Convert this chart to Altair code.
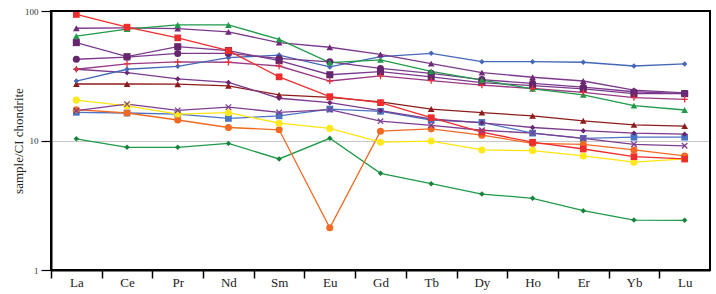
import altair as alt
import pandas as pd

# ---- data ----
elements = ["La", "Ce", "Pr", "Nd", "Sm", "Eu", "Gd", "Tb", "Dy", "Ho", "Er", "Yb", "Lu"]

blue_sq     = [16.5, 16.3, 16.0, 14.8, 15.5, 17.5, 16.8, 14.4, 13.8, 11.4, 10.4, 10.6, 10.6]
green_dia   = [10.3, 8.86, 8.86, 9.5, 7.2, 10.4, 5.58, 4.64, 3.86, 3.58, 2.87, 2.43, 2.42]
orange_ci   = [17.3, 16.3, 14.4, 12.6, 12.1, 2.12, 11.8, 12.3, 11.0, 9.5, 9.35, 8.45, 7.6]
yellow_ci   = [20.5, 18.5, 16.0, 16.4, 13.6, 12.4, 9.7, 9.9, 8.45, 8.35, 7.6, 6.8, 7.2]
purple_x    = [17.0, 19.1, 17.1, 18.1, 16.5, 17.3, 14.1, 13.1, 12.0, 11.4, 10.4, 9.35, 9.1]
dred_tri    = [27.3, 27.3, 27.2, 26.4, 22.5, 21.5, 19.9, 17.5, 16.4, 15.5, 14.2, 13.2, 12.9]
purple_dia  = [35.5, 33.4, 29.9, 28.1, 21.2, 19.6, 17.0, 14.7, 13.7, 12.6, 11.9, 11.4, 11.2]
red_plus    = [35.5, 39.0, 40.4, 40.2, 37.6, 28.8, 31.5, 29.0, 26.8, 25.2, 23.5, 21.4, 20.8]
blue_dia    = [28.8, 35.5, 37.4, 43.6, 45.7, 37.0, 44.5, 47.1, 40.6, 40.6, 40.2, 37.6, 39.0]
purple_ci   = [42.4, 44.0, 47.0, 47.0, 43.0, 40.5, 36.0, 33.0, 29.5, 27.6, 25.8, 23.8, 23.0]
dpurple_sq  = [57.0, 44.4, 53.0, 49.5, 41.3, 32.2, 34.0, 31.0, 28.0, 26.5, 25.0, 23.0, 23.0]
purple_tri  = [73.6, 74.0, 73.0, 69.0, 57.0, 52.5, 46.3, 39.2, 33.4, 30.8, 28.8, 24.5, 23.3]
green_tri   = [64.0, 72.5, 78.0, 78.0, 60.4, 40.0, 42.0, 34.2, 29.3, 25.0, 22.5, 18.6, 17.2]
red_sq      = [94.0, 75.0, 62.0, 49.4, 31.0, 21.8, 19.6, 15.0, 11.6, 9.7, 8.6, 7.5, 7.2]

series = {
    "S1": blue_sq, "S2": green_dia, "S3": orange_ci, "S4": yellow_ci,
    "S5": purple_x, "S6": dred_tri, "S7": purple_dia, "S8": red_plus,
    "S9": blue_dia, "S10": purple_ci, "S11": dpurple_sq, "S12": purple_tri,
    "S13": green_tri, "S14": red_sq,
}

# ---- styles (separate from data) ----
PLUS = "M-1,0L1,0M0,-1L0,1"
CROSS = "M-1,-1L1,1M-1,1L1,-1"
style = {
    #        line colour, marker colour, shape, size, stroked-marker?
    "S1":  ("#4A74C4", "#4A74C4", "square", 45, False),
    "S2":  ("#1E9A48", "#17843C", "diamond", 30, False),
    "S3":  ("#F26A22", "#F26A22", "circle", 50, False),
    "S4":  ("#FFE40F", "#FFE81C", "circle", 50, False),
    "S5":  ("#7E3F92", "#7E3F92", CROSS, 30, True),
    "S6":  ("#8E1B1B", "#8E1B1B", "triangle-up", 45, False),
    "S7":  ("#7B3A8D", "#6A2470", "diamond", 30, False),
    "S8":  ("#9A3A86", "#E8303A", PLUS, 40, True),
    "S9":  ("#4468B8", "#4468B8", "diamond", 30, False),
    "S10": ("#7B3A8D", "#66266C", "circle", 50, False),
    "S11": ("#7B3A8D", "#66266C", "square", 50, False),
    "S12": ("#7B3A8D", "#6E2A78", "triangle-up", 45, False),
    "S13": ("#1E9A48", "#1E9A48", "triangle-up", 45, False),
    "S14": ("#EE2D2D", "#EE2D2D", "square", 45, False),
}

rows = []
for si, (name, vals) in enumerate(series.items()):
    lc, mc, shp, sz, stroked = style[name]
    for i, (el, v) in enumerate(zip(elements, vals)):
        rows.append(dict(series=name, sidx=si, element=el, idx=i, value=v,
                         lcolor=lc, mcolor=mc, shape=shp, size=sz,
                         stroked=stroked))
df = pd.DataFrame(rows)

W, H = 659, 259
half = W / len(elements) / 2
SERIF = "Liberation Serif"

x_scale = alt.Scale(type="point", padding=0.5)
y_scale = alt.Scale(type="log", domain=[1, 100])

x_enc = alt.X(
    "element:N", sort=elements, scale=x_scale,
    axis=alt.Axis(title=None, labelAngle=0, tickOffset=-half, labelOffset=half,
                  tickSize=8, tickWidth=1.5, tickColor="black",
                  domainColor="black", domainWidth=2,
                  labelFont=SERIF, labelFontSize=13, labelColor="#222",
                  labelPadding=-2, grid=False),
)
y_enc = alt.Y(
    "value:Q", scale=y_scale,
    axis=alt.Axis(title="sample/CI chondrite", values=[1, 10, 100], format="d",
                  grid=True,
                  gridColor={"condition": {"test": "datum.value == 10",
                                           "value": "#C8C8C8"},
                             "value": "transparent"},
                  tickSize=10, tickWidth=1.2, tickColor="black",
                  domainColor="black", domainWidth=2,
                  labelFont=SERIF, labelFontSize=9, labelColor="#333",
                  labelPadding=3,
                  titleFont=SERIF, titleFontSize=13, titleFontWeight="normal",
                  titleColor="#222", titleX=-33, titleY=H / 2,
                  titleAlign="center", titleBaseline="middle"),
)

base = alt.Chart(df)
one = alt.Chart(pd.DataFrame({"k": [0]}))

# plot frame: an unfilled rectangle around the plot area
frame_box = one.mark_rect(fill=None, stroke="black", strokeWidth=2,
                          fillOpacity=0).encode(
    x=alt.value(0), x2=alt.value(W), y=alt.value(0), y2=alt.value(H))

lines = base.mark_line(strokeWidth=1.3).encode(
    x=x_enc, y=y_enc,
    stroke=alt.Stroke("lcolor:N", scale=None),
    detail="series:N",
    order="idx:Q",
)

filled_pts = base.transform_filter("!datum.stroked").mark_point(
    filled=True, opacity=1
).encode(
    x=x_enc, y=y_enc,
    fill=alt.Fill("mcolor:N", scale=None),
    shape=alt.Shape("shape:N", scale=None),
    size=alt.Size("size:Q", scale=None),
    detail="series:N",
)

stroked_pts = base.transform_filter("datum.stroked").mark_point(
    filled=False, opacity=1, strokeWidth=1.3
).encode(
    x=x_enc, y=y_enc,
    stroke=alt.Stroke("mcolor:N", scale=None),
    shape=alt.Shape("shape:N", scale=None),
    size=alt.Size("size:Q", scale=None),
    detail="series:N",
)

chart = alt.layer(lines, filled_pts, stroked_pts, frame_box).properties(
    width=W, height=H,
    autosize=alt.AutoSizeParams(type="none"),
    padding={"left": 51, "top": 11, "right": 6, "bottom": 24},
    background="white",
).configure_view(stroke="black", strokeWidth=2)

chart.save("out.html", embed_options={"renderer": "svg", "actions": False})
